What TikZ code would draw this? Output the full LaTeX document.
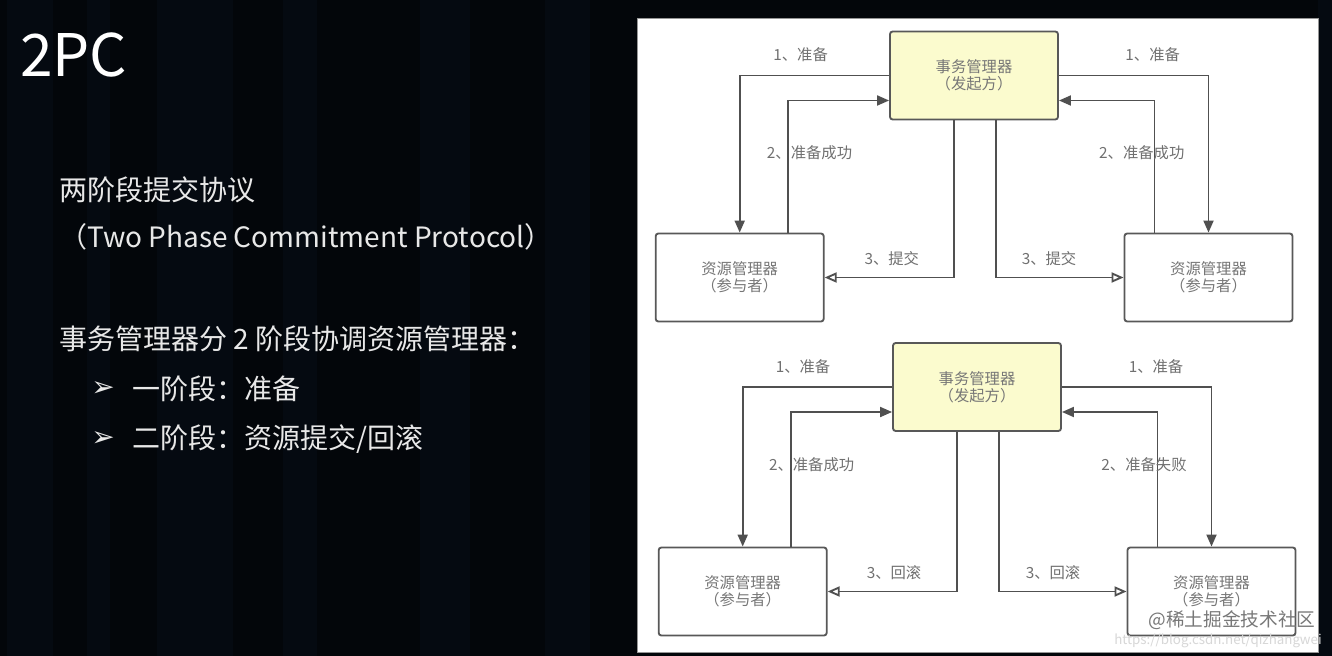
\documentclass[tikz,border=0pt]{standalone}
\usepackage{fontspec}
\setmainfont{Noto Sans CJK SC}
\newfontfamily\dingfont{DejaVu Sans}
\usetikzlibrary{arrows.meta,calc}

\begin{document}
\begin{tikzpicture}[x=0.75pt,y=0.75pt,yscale=-1,xscale=1,
  slide/.style={text={rgb,255:red,232;green,232;blue,232},inner sep=0pt,anchor=west},
  box/.style={draw={rgb,255:red,88;green,88;blue,88},line width=1.4pt,rounded corners=2pt,minimum width=126pt,minimum height=66pt,align=center,font=\fontsize{11.5}{13}\selectfont,text={rgb,255:red,118;green,118;blue,118}},
  tmbox/.style={box,fill={rgb,255:red,251;green,251;blue,206}},
  rmbox/.style={box,fill=white},
  lbl/.style={font=\fontsize{11.5}{13}\selectfont,text={rgb,255:red,112;green,112;blue,112},inner sep=0.75pt},
  flow/.style={draw={rgb,255:red,80;green,80;blue,80},line width=1.4pt,-{Triangle[length=9pt,width=7.5pt]}},
  cmd/.style={draw={rgb,255:red,80;green,80;blue,80},line width=1.4pt,-{Triangle[open,length=9pt,width=7.5pt]}}]

%background and panel
\fill [color={rgb, 255:red, 3; green, 6; blue, 10 }] (0,0) rectangle (1332,656);
\foreach \a/\b in {7/53,87/110,157/233,283/317,420/470,545/590,1318/1332}
  \fill [color={rgb, 255:red, 12; green, 22; blue, 36 }, fill opacity=0.3] (\a,0) rectangle (\b,656);
\draw [fill=white, draw={rgb, 255:red, 150; green, 150; blue, 150 }, line width=0.6pt] (637,18) rectangle (1318,652);

% Text Node
\node [slide, font=\fontsize{44}{48}\selectfont, text=white] (title) at (20,55) {2PC};
\node [slide, font=\fontsize{21}{24}\selectfont] (name) at (59,190) {两阶段提交协议};
\node [slide, font=\fontsize{21}{24}\selectfont] (full) at (59,237) {（Two Phase Commitment Protocol）};
\node [slide, font=\fontsize{21}{24}\selectfont] (desc) at (59,339) {事务管理器分 2 阶段协调资源管理器：};
\node [slide, font=\dingfont\fontsize{21}{24}\selectfont] (bulA) at (91,389) {➢};
\node [slide, font=\fontsize{21}{24}\selectfont] (stepA) at (132,389) {一阶段：准备};
\node [slide, font=\dingfont\fontsize{21}{24}\selectfont] (bulB) at (91,439) {➢};
\node [slide, font=\fontsize{21}{24}\selectfont] (stepB) at (132,439) {二阶段：资源提交/回滚};

%commit case
\node [tmbox] (tmA) at (974,75.5) {事务管理器\\（发起方）};
\node [rmbox] (rmAL) at (739.7,277.5) {资源管理器\\（参与者）};
\node [rmbox] (rmAR) at (1208.5,277.5) {资源管理器\\（参与者）};
\draw [flow] (tmA.west) -| (rmAL.north);
\draw [flow] ($(rmAL.north)+(48,0)$) |- ($(tmA.west)+(0,25)$);
\draw [flow] (tmA.east) -| (rmAR.north);
\draw [flow] ($(rmAR.north)+(-54,0)$) |- ($(tmA.east)+(0,25)$);
\draw [cmd] ($(tmA.south)+(-20,0)$) |- (rmAL.east);
\draw [cmd] ($(tmA.south)+(22,0)$) |- (rmAR.west);
\node [lbl] (pAL) at (800.6,55) {1、准备};
\node [lbl] (pAR) at (1152.7,55) {1、准备};
\node [lbl] (oAL) at (809.5,152.7) {2、准备成功};
\node [lbl] (oAR) at (1141.8,152.7) {2、准备成功};
\node [lbl] (cAL) at (891.8,259) {3、提交};
\node [lbl] (cAR) at (1049,259) {3、提交};

%rollback case
\node [tmbox] (tmB) at (977,387) {事务管理器\\（发起方）};
\node [rmbox] (rmBL) at (742.7,591.5) {资源管理器\\（参与者）};
\node [rmbox] (rmBR) at (1211.5,591.5) {资源管理器\\（参与者）};
\draw [flow] (tmB.west) -| (rmBL.north);
\draw [flow] ($(rmBL.north)+(48,0)$) |- ($(tmB.west)+(0,25)$);
\draw [flow] (tmB.east) -| (rmBR.north);
\draw [flow] ($(rmBR.north)+(-54,0)$) |- ($(tmB.east)+(0,25)$);
\draw [cmd] ($(tmB.south)+(-20,0)$) |- (rmBL.east);
\draw [cmd] ($(tmB.south)+(22,0)$) |- (rmBR.west);
\node [lbl] (pBL) at (803,366.7) {1、准备};
\node [lbl] (pBR) at (1156,366.7) {1、准备};
\node [lbl] (oBL) at (811.6,465) {2、准备成功};
\node [lbl] (oBR) at (1144,465) {2、准备失败};
\node [lbl] (cBL) at (894,573) {3、回滚};
\node [lbl] (cBR) at (1053,573) {3、回滚};

% watermark
\node [font=\fontsize{14}{16}\selectfont, text={rgb, 255:red, 120; green, 120; blue, 120 }, inner sep=0pt] (mark) at (1232,620) {@稀土掘金技术社区};
\node [font=\fontsize{10}{11}\selectfont, text={rgb, 255:red, 215; green, 215; blue, 215 }, inner sep=0pt] (url) at (1218,641) {https://blog.csdn.net/qizhangwei};

\end{tikzpicture}
\end{document}
